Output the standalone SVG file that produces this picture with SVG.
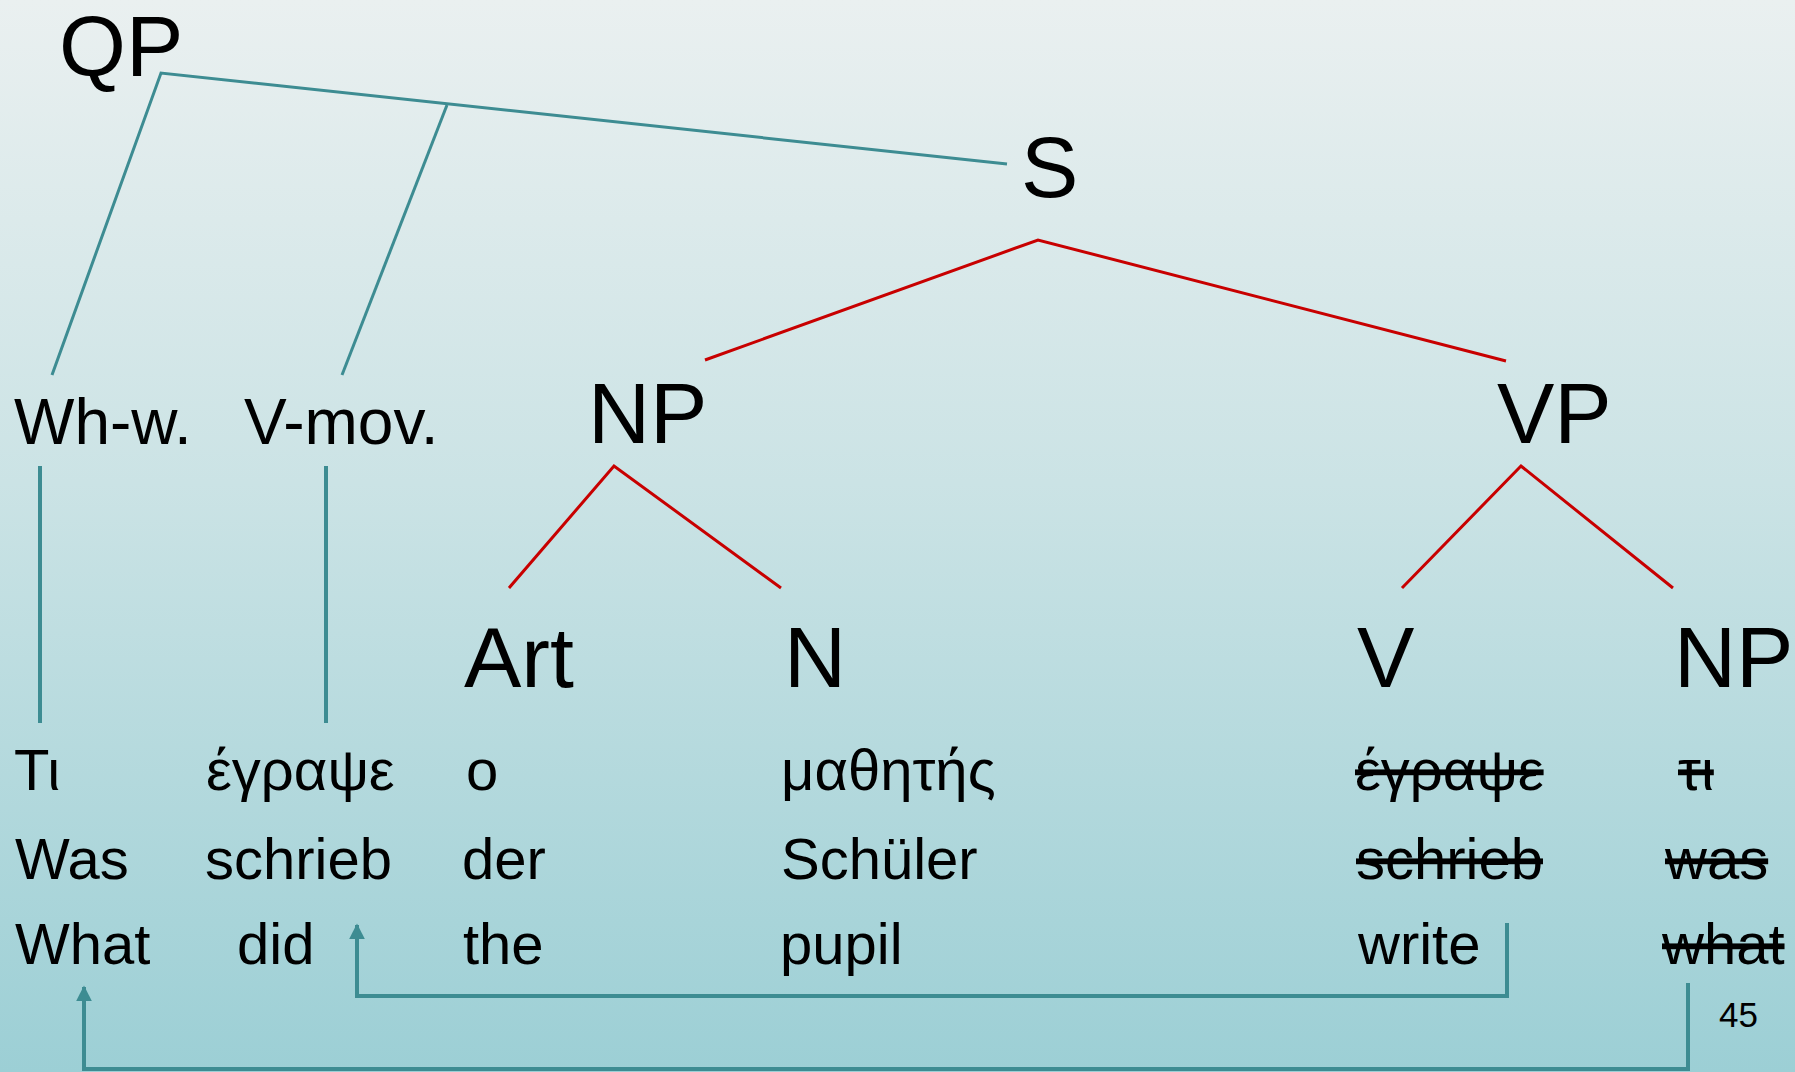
<svg xmlns="http://www.w3.org/2000/svg" width="1795" height="1072" viewBox="0 0 1795 1072">
  <defs>
    <linearGradient id="bg" x1="0" y1="0" x2="0" y2="1">
      <stop offset="0" stop-color="#eaf0f0"/>
      <stop offset="0.45" stop-color="#cbe3e5"/>
      <stop offset="1" stop-color="#9ccfd5"/>
    </linearGradient>
    <marker id="arrow" viewBox="0 0 10 10" refX="9" refY="5" markerWidth="4" markerHeight="4" markerUnits="strokeWidth" orient="auto">
      <path d="M0,0 L10,5 L0,10 Z" fill="#3d8c92"/>
    </marker>
    <style>
      text { font-family: "Liberation Sans", Arial, "DejaVu Sans", sans-serif; fill: #000; }
      .cat { font-size: 86px; }
      .func { font-size: 64px; }
      .word { font-size: 58px; }
      .gone { text-decoration: line-through; }
      .num { font-size: 35px; }
      .teal { stroke: #3d8c92; stroke-width: 3; fill: none; }
      .teal-thick { stroke: #3d8c92; stroke-width: 4; fill: none; }
      .red { stroke: #c80000; stroke-width: 3; fill: none; }
    </style>
  </defs>

  <rect width="1795" height="1072" fill="url(#bg)"/>

  <!-- tree branches and movement arrows -->
  <g id="connectors">
    <polyline class="teal" points="52,375 161,73 1007,164"/>
    <line class="teal" x1="447" y1="105" x2="342" y2="375"/>
    <line class="teal-thick" x1="40" y1="466" x2="40" y2="723"/>
    <line class="teal-thick" x1="326" y1="466" x2="326" y2="723"/>

    <polyline class="red" points="705,360 1038,240 1506,361"/>
    <polyline class="red" points="509,588 614,466 781,588"/>
    <polyline class="red" points="1402,588 1521,466 1673,588"/>

    <polyline class="teal-thick" points="1507,923 1507,996 357,996 357,925" marker-end="url(#arrow)"/>
    <polyline class="teal-thick" points="1688,983 1688,1069 84,1069 84,987" marker-end="url(#arrow)"/>
  </g>

  <g id="node-qp"><text class="cat" x="59" y="76">QP</text></g>
  <g id="node-s"><text class="cat" x="1021" y="197">S</text></g>
  <g id="node-whw"><text class="func" x="14" y="444">Wh-w.</text></g>
  <g id="node-vmov"><text class="func" x="244" y="444">V-mov.</text></g>
  <g id="node-np"><text class="cat" x="588" y="443">NP</text></g>
  <g id="node-vp"><text class="cat" x="1497" y="443">VP</text></g>
  <g id="node-art"><text class="cat" x="464" y="687">Art</text></g>
  <g id="node-n"><text class="cat" x="784" y="687">N</text></g>
  <g id="node-v"><text class="cat" x="1357" y="687">V</text></g>
  <g id="node-np2"><text class="cat" x="1674" y="687">NP</text></g>

  <!-- word rows: Greek, German, English -->
  <g id="col-wh">
    <text class="word" x="14" y="790">Τι</text>
    <text class="word" x="15" y="879">Was</text>
    <text class="word" x="15" y="964">What</text>
  </g>
  <g id="col-vmov">
    <text class="word" x="206" y="790">έγραψε</text>
    <text class="word" x="205" y="879">schrieb</text>
    <text class="word" x="237" y="964">did</text>
  </g>
  <g id="col-art">
    <text class="word" x="466" y="790">ο</text>
    <text class="word" x="462" y="879">der</text>
    <text class="word" x="463" y="964">the</text>
  </g>
  <g id="col-n">
    <text class="word" x="781" y="790">μαθητής</text>
    <text class="word" x="781" y="879">Schüler</text>
    <text class="word" x="780" y="964">pupil</text>
  </g>
  <g id="col-v">
    <text class="word gone" x="1355" y="790">έγραψε</text>
    <text class="word gone" x="1356" y="879">schrieb</text>
    <text class="word" x="1358" y="964">write</text>
  </g>
  <g id="col-np">
    <text class="word gone" x="1678" y="790">τι</text>
    <text class="word gone" x="1665" y="879">was</text>
    <text class="word gone" x="1662" y="964">what</text>
  </g>

  <g id="page-number"><text class="num" x="1719" y="1027">45</text></g>
</svg>
